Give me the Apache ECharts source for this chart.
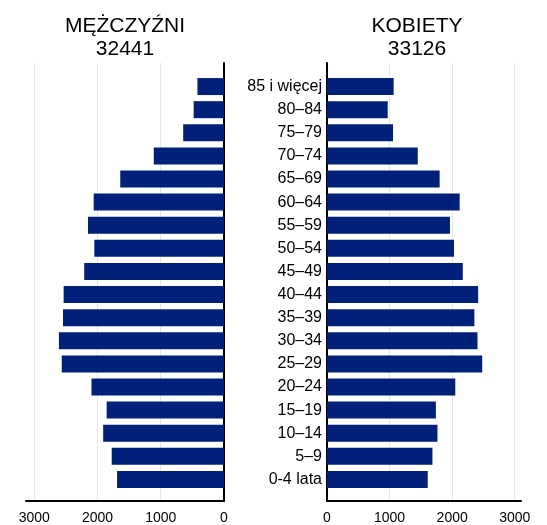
<!DOCTYPE html>
<html>
<head>
<meta charset="utf-8">
<script src="https://cdn.jsdelivr.net/npm/echarts@6/dist/echarts.min.js"></script>
<style>
  html, body { margin: 0; padding: 0; background: #fff; }
  #chart { width: 547px; height: 525px; }
</style>
</head>
<body>
<div id="chart"></div>
<script>
// grupy wieku, od dołu do góry
var ageGroups = ['0-4 lata', '5–9', '10–14', '15–19', '20–24', '25–29', '30–34', '35–39', '40–44',
  '45–49', '50–54', '55–59', '60–64', '65–69', '70–74', '75–79', '80–84', '85 i więcej'];
var men = [1690, 1775, 1910, 1855, 2095, 2565, 2610, 2545, 2535, 2210, 2050, 2150, 2060, 1640, 1110, 645, 480, 420];
var women = [1610, 1685, 1765, 1740, 2050, 2480, 2405, 2355, 2415, 2170, 2030, 1965, 2120, 1800, 1450, 1055, 970, 1065];
var xTicks = [0, 1000, 2000, 3000];
var menTotal = '32441';
var womenTotal = '33126';

var font = 'Liberation Sans, Arial, sans-serif';
var barColor = '#00207a';

// oś x (dolna) z siatką
function frameXAxis(grid, max, inverse) {
  return {
    type: 'value', gridIndex: grid, min: 0, max: max, interval: 1000, inverse: inverse,
    axisLine: { show: true, onZero: false, lineStyle: { color: '#000', width: 2 } },
    axisTick: { show: false },
    axisLabel: { customValues: xTicks, color: '#000', fontSize: 14, fontFamily: font, margin: 10,
      formatter: function (v) { return String(v); } },
    splitLine: { show: true, showMaxLine: false, lineStyle: { color: '#e6e6e6', width: 1 } }
  };
}
// ukryta oś x dla słupków
function barXAxis(grid, max, inverse) {
  return { type: 'value', gridIndex: grid, min: 0, max: max, inverse: inverse, show: false, splitLine: { show: false } };
}

var myChart = echarts.init(document.getElementById('chart'));
myChart.setOption({
  animation: false,
  title: [
    { text: 'MĘŻCZYŹNI\n' + menTotal, left: 120, top: 10, textAlign: 'center',
      textStyle: { fontSize: 21, fontWeight: 'normal', color: '#000', fontFamily: font, lineHeight: 23 } },
    { text: 'KOBIETY\n' + womenTotal, left: 412, top: 10, textAlign: 'center',
      textStyle: { fontSize: 21, fontWeight: 'normal', color: '#000', fontFamily: font, lineHeight: 23 } }
  ],
  grid: [
    { left: 26, width: 198, top: 63, height: 439 },   // mężczyźni - ramka
    { left: 26, width: 198, top: 75, height: 416 },   // mężczyźni - słupki
    { left: 327, width: 194, top: 63, height: 439 },  // kobiety - ramka
    { left: 327, width: 194, top: 75, height: 416 }   // kobiety - słupki
  ],
  xAxis: [
    frameXAxis(0, 3130, true),
    barXAxis(1, 3130, true),
    frameXAxis(2, 3100, false),
    barXAxis(3, 3100, false)
  ],
  yAxis: [
    { type: 'value', gridIndex: 0, position: 'right', min: 0, max: 1,
      axisLine: { show: true, lineStyle: { color: '#000', width: 2 } },
      axisTick: { show: false }, axisLabel: { show: false }, splitLine: { show: false } },
    { type: 'category', gridIndex: 1, data: ageGroups, show: false },
    { type: 'value', gridIndex: 2, position: 'left', min: 0, max: 1,
      axisLine: { show: true, lineStyle: { color: '#000', width: 2 } },
      axisTick: { show: false }, axisLabel: { show: false }, splitLine: { show: false } },
    { type: 'category', gridIndex: 3, data: ageGroups,
      axisLine: { show: false }, axisTick: { show: false },
      axisLabel: { color: '#000', fontSize: 16, fontFamily: font, margin: 5 } }
  ],
  series: [
    { name: 'Mężczyźni', type: 'bar', xAxisIndex: 1, yAxisIndex: 1, data: men,
      barWidth: 17, itemStyle: { color: barColor } },
    { name: 'Kobiety', type: 'bar', xAxisIndex: 3, yAxisIndex: 3, data: women,
      barWidth: 17, itemStyle: { color: barColor } }
  ]
});
</script>
</body>
</html>
